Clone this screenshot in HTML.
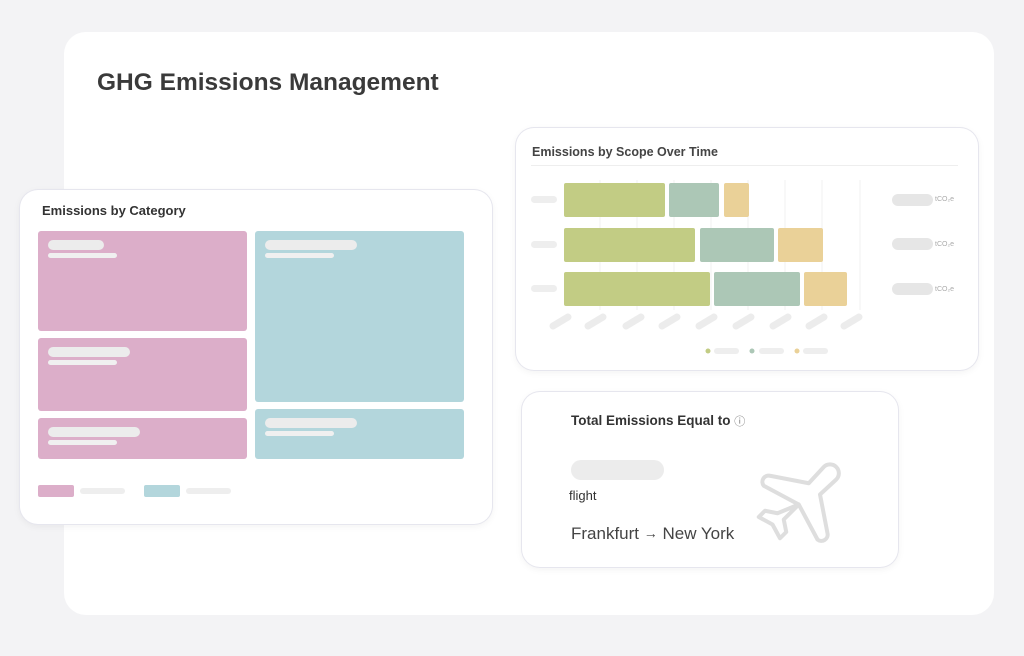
<!DOCTYPE html><html><head><style>
body{margin:0;width:1024px;height:656px;background:#f3f3f5;position:relative;overflow:hidden;font-family:"Liberation Sans",sans-serif}
.a{position:absolute}
.card{position:absolute;background:#fff;border-radius:18px;box-shadow:0 0 0 1px #e6e6ee,0 2px 8px rgba(0,0,0,.06)}
.p{position:absolute;background:#e6e6e6;border-radius:6px}
</style></head><body>
<div class="a" style="left:64px;top:32px;width:930px;height:583px;background:#fff;border-radius:22px"></div>
<div class="a" style="left:97px;top:69px;font-size:24.5px;font-weight:bold;color:#3a3a3a">GHG Emissions Management</div>

<div class="card" style="left:20px;top:190px;width:472px;height:334px"></div>
<div class="a" style="left:42px;top:203px;font-size:13px;font-weight:bold;color:#333">Emissions by Category</div>
<div class="a" style="left:38px;top:231px;width:209px;height:100px;background:#dcaec9;border-radius:3px"></div>
<div class="a" style="left:38px;top:338px;width:209px;height:73px;background:#dcaec9;border-radius:3px"></div>
<div class="a" style="left:38px;top:418px;width:209px;height:41px;background:#dcaec9;border-radius:3px"></div>
<div class="a" style="left:255px;top:231px;width:209px;height:171px;background:#b3d6dc;border-radius:3px"></div>
<div class="a" style="left:255px;top:409px;width:209px;height:50px;background:#b3d6dc;border-radius:3px"></div>
<div class="p" style="left:48px;top:240px;width:56px;height:10px;background:#ececec"></div>
<div class="p" style="left:48px;top:253px;width:69px;height:5px;background:#f0f0f0"></div>
<div class="p" style="left:48px;top:347px;width:82px;height:10px;background:#ececec"></div>
<div class="p" style="left:48px;top:360px;width:69px;height:5px;background:#f0f0f0"></div>
<div class="p" style="left:48px;top:427px;width:92px;height:10px;background:#ececec"></div>
<div class="p" style="left:48px;top:440px;width:69px;height:5px;background:#f0f0f0"></div>
<div class="p" style="left:265px;top:240px;width:92px;height:10px;background:#ececec"></div>
<div class="p" style="left:265px;top:253px;width:69px;height:5px;background:#f0f0f0"></div>
<div class="p" style="left:265px;top:418px;width:92px;height:10px;background:#ececec"></div>
<div class="p" style="left:265px;top:431px;width:69px;height:5px;background:#f0f0f0"></div>
<div class="a" style="left:38px;top:485px;width:36px;height:12px;background:#dcaec9;border-radius:2px"></div>
<div class="p" style="left:80px;top:488px;width:45px;height:6px;background:#eee"></div>
<div class="a" style="left:144px;top:485px;width:36px;height:12px;background:#b3d6dc;border-radius:2px"></div>
<div class="p" style="left:186px;top:488px;width:45px;height:6px;background:#eee"></div>

<div class="card" style="left:516px;top:128px;width:462px;height:242px"></div>
<div class="a" style="left:532px;top:145px;font-size:12.5px;font-weight:bold;color:#444">Emissions by Scope Over Time</div>
<div class="a" style="left:531px;top:165px;width:427px;height:1px;background:#eee"></div>
<div class="card" style="left:522px;top:392px;width:376px;height:175px"></div>
<svg class="a" style="left:0;top:0" width="1024" height="656">
<g stroke="#f0f0f0" stroke-width="1">
<line x1="600" y1="180" x2="600" y2="310"/><line x1="637" y1="180" x2="637" y2="310"/><line x1="674" y1="180" x2="674" y2="310"/><line x1="711" y1="180" x2="711" y2="310"/><line x1="748" y1="180" x2="748" y2="310"/><line x1="785" y1="180" x2="785" y2="310"/><line x1="822" y1="180" x2="822" y2="310"/><line x1="860" y1="180" x2="860" y2="310"/></g>
<g fill="#c2cc84"><rect x="564" y="183" width="101" height="34" rx="2"/><rect x="564" y="228" width="131" height="34" rx="2"/><rect x="564" y="272" width="146" height="34" rx="2"/></g>
<g fill="#acc7b6"><rect x="669" y="183" width="50" height="34" rx="2"/><rect x="700" y="228" width="74" height="34" rx="2"/><rect x="714" y="272" width="86" height="34" rx="2"/></g>
<g fill="#ead198"><rect x="724" y="183" width="25" height="34" rx="2"/><rect x="778" y="228" width="45" height="34" rx="2"/><rect x="804" y="272" width="43" height="34" rx="2"/></g>
<g stroke="#ececec" stroke-width="7" stroke-linecap="round">
<line x1="553" y1="326" x2="568" y2="317"/><line x1="588" y1="326" x2="603" y2="317"/><line x1="626" y1="326" x2="641" y2="317"/><line x1="662" y1="326" x2="677" y2="317"/><line x1="699" y1="326" x2="714" y2="317"/><line x1="736" y1="326" x2="751" y2="317"/><line x1="773" y1="326" x2="788" y2="317"/><line x1="809" y1="326" x2="824" y2="317"/><line x1="844" y1="326" x2="859" y2="317"/></g>
<circle cx="708" cy="351" r="2.5" fill="#c2cc84"/><circle cx="752" cy="351" r="2.5" fill="#acc7b6"/><circle cx="797" cy="351" r="2.5" fill="#ead198"/>
<g transform="translate(800,502) scale(1.25) translate(-796,-480)">
<path d="M795 482 l-28 -15 a5 5 0 0 1 5 -8 l31 6 l12 -13 a7 7 0 0 1 10 10 l-13 12 l6 31 a5 5 0 0 1 -8 5 l-15 -28 l-12 12 l2 10 l-5 5 l-6 -11 l-11 -6 l5 -5 l10 2 z" fill="none" stroke="#dedede" stroke-width="3.2" stroke-linejoin="round"/></g>
</svg>
<div class="p" style="left:531px;top:196px;width:26px;height:7px;background:#eee"></div>
<div class="p" style="left:531px;top:241px;width:26px;height:7px;background:#eee"></div>
<div class="p" style="left:531px;top:285px;width:26px;height:7px;background:#eee"></div>
<div class="p" style="left:892px;top:194px;width:41px;height:12px"></div><div class="a" style="left:935px;top:196px;font-size:7px;color:#aaa">tCO₂e</div>
<div class="p" style="left:892px;top:238px;width:41px;height:12px"></div><div class="a" style="left:935px;top:241px;font-size:7px;color:#aaa">tCO₂e</div>
<div class="p" style="left:892px;top:283px;width:41px;height:12px"></div><div class="a" style="left:935px;top:286px;font-size:7px;color:#aaa">tCO₂e</div>
<div class="p" style="left:714px;top:348px;width:25px;height:6px;background:#eee"></div>
<div class="p" style="left:759px;top:348px;width:25px;height:6px;background:#eee"></div>
<div class="p" style="left:803px;top:348px;width:25px;height:6px;background:#eee"></div>

<div class="a" style="left:571px;top:413px;font-size:13.5px;font-weight:bold;color:#333">Total Emissions Equal to <span style="font-weight:normal;font-size:11px;color:#777">ⓘ</span></div>
<div class="p" style="left:571px;top:460px;width:93px;height:20px;border-radius:10px;background:#ececec"></div>
<div class="a" style="left:569px;top:488px;font-size:13px;color:#333">flight</div>
<div class="a" style="left:571px;top:524px;font-size:17px;color:#444">Frankfurt <span style="font-size:14px;position:relative;top:-1px">→</span> New York</div>
</body></html>
